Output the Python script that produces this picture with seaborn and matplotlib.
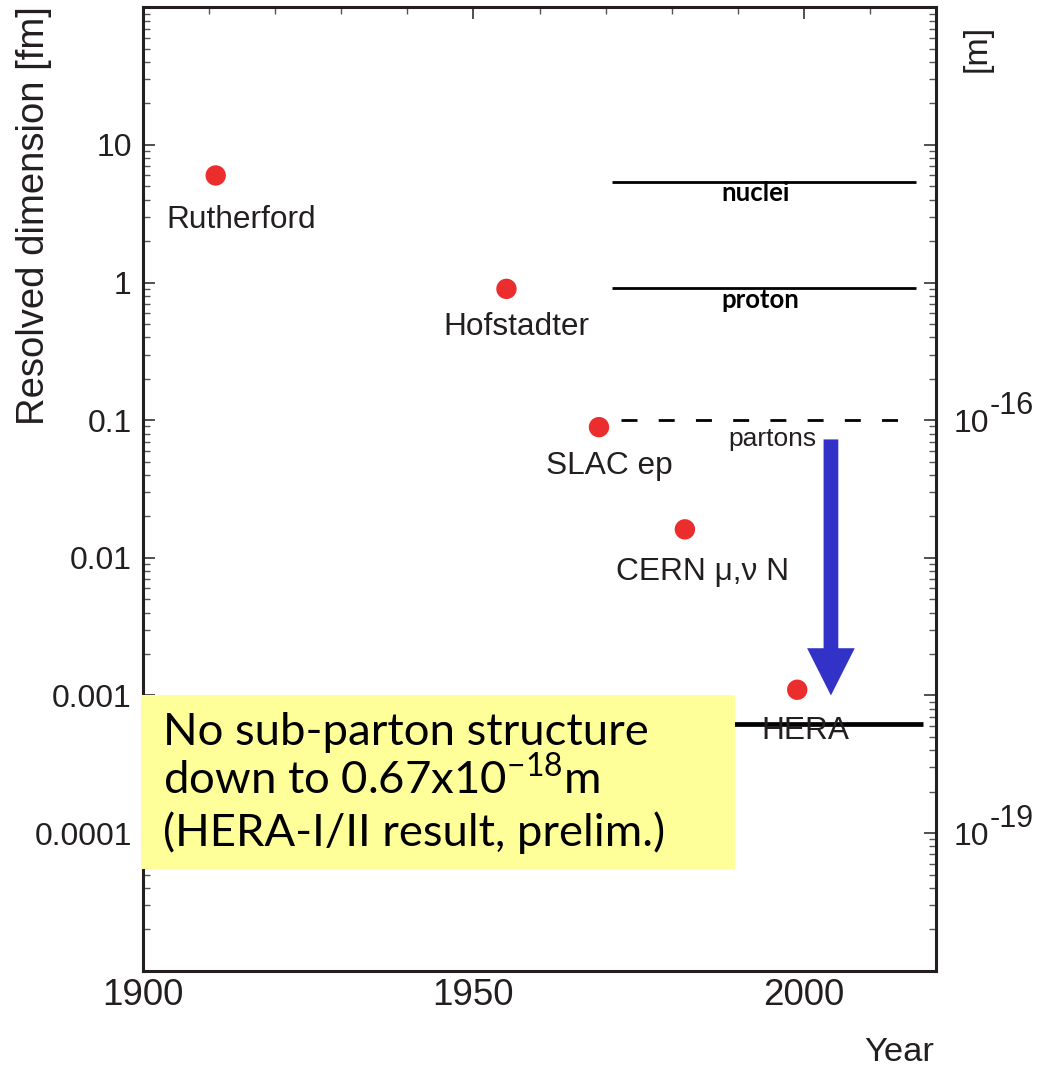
import numpy as np
import pandas as pd
import matplotlib
matplotlib.use("Agg")
import matplotlib.pyplot as plt
import seaborn as sns
from matplotlib.ticker import FixedLocator, LogLocator, MultipleLocator, FuncFormatter, NullFormatter
from matplotlib.patches import Rectangle

# ---------------- data ----------------
experiments = ["Rutherford", "Hofstadter", "SLAC ep", "CERN μ,ν N", "HERA"]
exp_years = [1911, 1955, 1969, 1982, 1999]
exp_size_fm = [6.0, 0.90, 0.089, 0.0161, 0.0011]
label_years = [1903.5, 1945.4, 1961.0, 1971.6, 1993.6]
label_size_fm = [2.51, 0.416, 0.0409, 0.00686, 0.000483]

scale_names = ["nuclei", "proton", "partons"]
scale_size_fm = [5.38, 0.915, 0.1]
scale_start = [1971, 1971, 1972.3]
scale_end = [2017, 2017, 2017]
scale_label_year = [1987.5, 1987.5, 1988.6]
scale_label_fm = [3.89, 0.651, 0.0648]

hera_limit_fm = 0.00062
hera_limit_span = [1960, 2018]

arrow_year = 2004.1
arrow_from_fm = 0.0725
arrow_to_fm = 0.001

x_major = [1900, 1950, 2000]
x_labels = ["1900", "1950", "2000"]
y_tick_values = [10, 1, 0.1, 0.01, 0.001, 0.0001]
y_tick_labels = ["10", "1", "0.1", "0.01", "0.001", "0.0001"]
m_tick_values = [1e-16, 1e-19]
m_tick_base = ["10", "10"]
m_tick_exponent = ["-16", "-19"]

box_lines = ["No sub-parton structure",
             "down to 0.67x10$^{\\mathregular{-18}}$m",
             "(HERA-I/II result, prelim.)"]

# ---------------- style ----------------
sns.set_style("white")
plt.rcParams["font.family"] = ["Liberation Sans", "DejaVu Sans"]
plt.rcParams["mathtext.default"] = "regular"
plt.rcParams["lines.scale_dashes"] = False
TXT = "#231f20"
RED = "#EC2D2D"
BLUE = "#3232C8"
COMIC = ["Lato", "DejaVu Sans"]

fig = plt.figure(figsize=(10.37, 10.68), dpi=100)
ax = fig.add_axes([143 / 1037, 97.3 / 1068, 793 / 1037, 963.4 / 1068])
ax.set_yscale("log")
ax.set_xlim(1900, 2020)
ax.set_ylim(1e-5, 1e2)

df = pd.DataFrame({"year": exp_years, "size": exp_size_fm, "name": experiments})
sns.scatterplot(data=df, x="year", y="size", ax=ax, color=RED, s=215,
                edgecolor="none", linewidth=0, zorder=6, legend=False)

for name, yr, fm in zip(experiments, label_years, label_size_fm):
    ax.text(yr, fm, name, ha="left", va="baseline", fontsize=22.8, color=TXT, zorder=7)

# scale lines
styles = ["-", "-", (0, (11.5, 15.3))]
for nm, fm, x0, x1, ls in zip(scale_names, scale_size_fm, scale_start, scale_end, styles):
    ax.plot([x0, x1], [fm, fm], color="black", lw=2.0, ls=ls, zorder=3,
            solid_capstyle="butt", dash_capstyle="butt")

for nm, yr, fm in zip(scale_names, scale_label_year, scale_label_fm):
    if nm == "partons":
        ax.text(yr, fm, nm, ha="left", va="baseline", fontsize=19, color=TXT, zorder=7)
    else:
        ax.text(yr, fm, nm, ha="left", va="baseline", fontsize=18.5, fontweight="bold",
                color="black", family=COMIC, zorder=7)

# HERA limit line
ax.plot(hera_limit_span, [hera_limit_fm, hera_limit_fm], color="black", lw=3.4, zorder=3,
        solid_capstyle="butt")

# arrow
ax.annotate("", xy=(arrow_year, arrow_to_fm), xytext=(arrow_year, arrow_from_fm),
            arrowprops=dict(arrowstyle="simple,head_length=34,head_width=34.3,tail_width=10.6",
                            mutation_scale=1, shrinkA=0, shrinkB=0,
                            facecolor=BLUE, edgecolor="none", lw=0),
            zorder=4)

# yellow box
ax.add_patch(Rectangle((-0.002, 0.1053), 0.7485, 0.1809, transform=ax.transAxes,
                       facecolor="#FFFF99", edgecolor="none", zorder=10, clip_on=False))
box_y = [0.2343, 0.1841, 0.1294]
box_txt = []
for line, yy in zip(box_lines, box_y):
    box_txt.append(ax.text(0.0248, yy, line, transform=ax.transAxes, ha="left",
                           va="baseline", fontsize=32, color="black", family=COMIC, zorder=11))

# axes ticks
ax.xaxis.set_major_locator(FixedLocator(x_major))
ax.set_xticklabels(x_labels)
ax.xaxis.set_minor_locator(MultipleLocator(10))
ax.yaxis.set_major_locator(FixedLocator(y_tick_values))
ax.set_yticklabels(y_tick_labels)
ax.yaxis.set_minor_locator(LogLocator(base=10, subs=np.arange(2, 10), numticks=50))
ax.yaxis.set_minor_formatter(NullFormatter())

ax.tick_params(axis="both", which="major", direction="in", length=8.6, width=1.1,
               color=TXT, labelcolor=TXT, top=True, right=False)
ax.tick_params(axis="both", which="minor", direction="in", length=5.0, width=1.0,
               color="#555555", top=True, right=False)
ax.tick_params(axis="x", which="major", labelsize=26.5, pad=5.5)
ax.tick_params(axis="y", which="major", labelsize=23, pad=8.1)
for s in ax.spines.values():
    s.set_linewidth(2.2)
    s.set_color(TXT)
    s.set_visible(True)
ax.spines["right"].set_visible(False)
ax.grid(False)

# right axis in metres
ax2 = ax.twinx()
ax2.set_yscale("log")
ax2.set_ylim(1e-20, 1e-13)
ax2.yaxis.set_major_locator(FixedLocator([10.0 ** k for k in range(-20, -12)]))
def m_fmt(v, p):
    for tv, tl in zip(m_tick_values, m_tick_base):
        if np.isclose(np.log10(v), np.log10(tv)):
            return tl
    return ""
ax2.yaxis.set_major_formatter(FuncFormatter(m_fmt))
ax2.yaxis.set_minor_locator(LogLocator(base=10, subs=np.arange(2, 10), numticks=50))
ax2.yaxis.set_minor_formatter(NullFormatter())
ax2.tick_params(axis="y", which="major", direction="in", length=8.6, width=1.1, color=TXT,
                labelcolor=TXT, labelsize=23, pad=13)
ax2.tick_params(axis="y", which="minor", direction="in", length=5.0, width=1.0, color="#555555")
for k in ["left", "top", "bottom"]:
    ax2.spines[k].set_visible(False)
ax2.spines["right"].set_linewidth(2.2)
ax2.spines["right"].set_color(TXT)
ax2.grid(False)
# exponents of the metre labels
for tv, ex in zip(m_tick_values, m_tick_exponent):
    ax2.annotate(ex, xy=(1.0, tv), xycoords=ax2.get_yaxis_transform(),
                 xytext=(38.5, 4.5), textcoords="offset points", ha="left", va="baseline",
                 fontsize=22, color=TXT, annotation_clip=False)

# axis labels
ax.set_ylabel("Resolved dimension [fm]", fontsize=27.5, color=TXT)
ax.yaxis.set_label_coords(-0.1151, 0.7834)
ax.set_xlabel("Year", fontsize=24.8, color=TXT, loc="right")
ax.xaxis.set_label_coords(0.998, -0.0688)
ax2.set_ylabel("[m]", fontsize=24.5, color=TXT)
ax2.yaxis.set_label_coords(1.032, 0.9578)

# fit the box text to the reference width
fig.canvas.draw()
r = fig.canvas.get_renderer()
w = box_txt[0].get_window_extent(r).width
fs = 32 * 486.0 / w
for t in box_txt:
    t.set_fontsize(fs)

fig.savefig("out.png", dpi=100, facecolor="white")
